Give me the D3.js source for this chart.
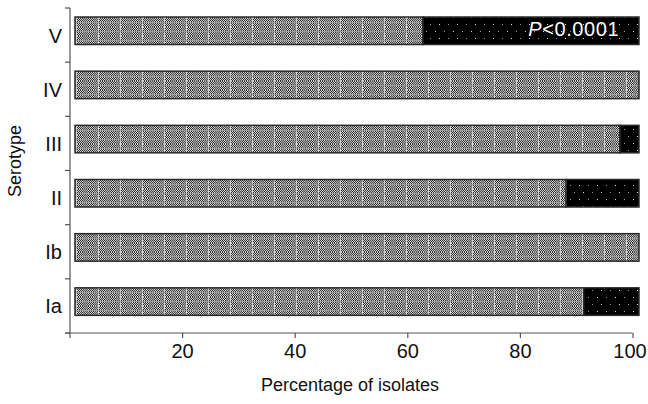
<!DOCTYPE html>
<html>
<head>
<meta charset="utf-8">
<script src="https://cdn.jsdelivr.net/npm/d3@7"></script>
<style>
html,body{margin:0;padding:0;background:#fff;}
svg{display:block;}
text{font-family:"Liberation Sans",Arial,Helvetica,sans-serif;fill:#111;}
</style>
</head>
<body>
<svg id="chart" width="648" height="404"></svg>
<script>
// ---- data ----
const categories = ["V", "IV", "III", "II", "Ib", "Ia"];
const susceptible = [61.7, 100, 96.6, 87.1, 100, 90.2];
const resistant   = [38.3, 0, 3.4, 12.9, 0, 9.8];
const xTicks = [20, 40, 60, 80, 100];
const annotation = "P<0.0001";

const svg = d3.select("#chart");
const defs = svg.append("defs");

// gray dithered pattern
const pg = defs.append("pattern").attr("id","grayPat").attr("patternUnits","userSpaceOnUse")
  .attr("width",22).attr("height",9);
pg.append("rect").attr("width",22).attr("height",9).attr("fill","#7c7c7c");
for (let i=0;i<22;i++){
  for (let j=0;j<9;j++){
    if (j===4) continue;
    const dark = (i%11<6) ? "#303030" : "#5a5a5a";
    const light = (i%11<6) ? "#d0d0d0" : "#a8a8a8";
    pg.append("rect").attr("x",i).attr("y",j).attr("width",1).attr("height",1)
      .attr("fill", (i+j)%2===0 ? dark : light);
  }
}
pg.append("rect").attr("x",10).attr("y",0).attr("width",1).attr("height",9).attr("fill","#cfcfcf");
pg.append("rect").attr("x",0).attr("y",4).attr("width",22).attr("height",1).attr("fill","#9a9a9a");

// black dotted pattern
const pb = defs.append("pattern").attr("id","blackPat").attr("patternUnits","userSpaceOnUse")
  .attr("width",18).attr("height",14);
pb.append("rect").attr("width",18).attr("height",14).attr("fill","#000");
pb.append("rect").attr("x",3).attr("y",3).attr("width",1).attr("height",1).attr("fill","#ddd");
pb.append("rect").attr("x",12).attr("y",3).attr("width",1).attr("height",1).attr("fill","#999");
pb.append("rect").attr("x",7).attr("y",10).attr("width",1).attr("height",1).attr("fill","#ddd");
pb.append("rect").attr("x",16).attr("y",10).attr("width",1).attr("height",1).attr("fill","#999");

// scales
const x = d3.scaleLinear().domain([0,100]).range([69.5,632.5]);
const xBar = d3.scaleLinear().domain([0,100]).range([75,639]);
const y = d3.scaleBand().domain(categories).range([8,333]).padding(0);

const rows = categories.map((c,i)=>({cat:c, s:susceptible[i], r:resistant[i]}));

// bars
const g = svg.append("g");
rows.forEach(d=>{
  g.append("rect")
    .attr("x", xBar(0)).attr("y", y(d.cat)+9)
    .attr("width", xBar(d.s)-xBar(0)).attr("height", 27.5)
    .attr("fill","url(#grayPat)").attr("stroke","#2a2a2a").attr("stroke-width",1.5);
  if (d.r>0){
    g.append("rect")
      .attr("x", xBar(d.s)).attr("y", y(d.cat)+9)
      .attr("width", xBar(d.s+d.r)-xBar(d.s)).attr("height", 27.5)
      .attr("fill","url(#blackPat)").attr("stroke","#2a2a2a").attr("stroke-width",1.5);
  }
});

// annotation
const pt = svg.append("text").attr("x", xBar(96.5)).attr("y", y("V")+28)
  .attr("text-anchor","end").style("font-size","20px").style("letter-spacing","0.6px").style("fill","#fff");
pt.append("tspan").style("font-style","italic").style("fill","#fff").text(annotation.slice(0,1));
pt.append("tspan").style("fill","#fff").text(annotation.slice(1));

// y axis
const axisColor = "#555";
svg.append("line").attr("x1",70).attr("x2",70).attr("y1",y.range()[0]).attr("y2",338)
  .attr("stroke",axisColor).attr("stroke-width",1.2);
const yBounds = categories.map(c=>y(c)).concat([y.range()[1]]);
svg.selectAll(".ytick").data(yBounds).enter().append("line")
  .attr("x1",65).attr("x2",70).attr("y1",d=>d).attr("y2",d=>d)
  .attr("stroke",axisColor).attr("stroke-width",1.2);
svg.selectAll(".ylab").data(categories).enter().append("text")
  .attr("x",62).attr("y",d=>y(d)+y.bandwidth()/2+7.5)
  .attr("text-anchor","end").style("font-size","20px").text(d=>d);
svg.append("text").attr("transform","translate(21,161) rotate(-90)")
  .attr("text-anchor","middle").style("font-size","18px").text("Serotype");

// x axis
const xAxis = d3.axisBottom(x).tickValues(xTicks).tickSize(5).tickSizeOuter(0);
const xg = svg.append("g").attr("transform","translate(0,333)").call(xAxis);
xg.select(".domain").remove();
xg.append("line").attr("x1",65).attr("x2",x(100)).attr("y1",0).attr("y2",0)
  .attr("stroke",axisColor).attr("stroke-width",1.2);
xg.selectAll(".tick line").attr("stroke",axisColor).attr("stroke-width",1.2);
xg.selectAll(".tick text").attr("y",11).style("font-size","20px")
  .style("fill","#111")
  .style("font-family","'Liberation Sans',Arial,sans-serif")
  .attr("dx", d => d === 100 ? "-3" : "0");
svg.append("text").attr("x",350).attr("y",391).attr("text-anchor","middle")
  .style("font-size","18px").text("Percentage of isolates");
</script>
</body>
</html>
